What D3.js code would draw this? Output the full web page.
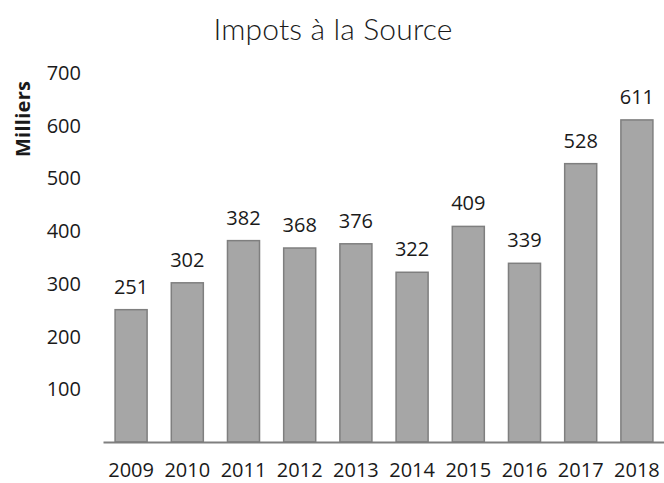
<!DOCTYPE html>
<meta charset="utf-8">
<style>
    body { margin: 0; background: #fff; }
    text { font-family: "Open Sans", sans-serif; fill: #1a1a1a; }
    .title { font-family: Lato, sans-serif; font-weight: 300; font-size: 30px; }
</style>
<script src="https://d3js.org/d3.v7.min.js"></script>
<svg width="664" height="483"></svg>
<script>
    var years = ["2009", "2010", "2011", "2012", "2013", "2014", "2015", "2016", "2017", "2018"];
    var values = [251, 302, 382, 368, 376, 322, 409, 339, 528, 611];
    var yTicks = [100, 200, 300, 400, 500, 600, 700];

    var svg = d3.select("svg");

    var x = d3.scaleBand()
        .domain(years)
        .range([103, 665])
        .paddingInner(0.43)
        .paddingOuter(0.215);

    var y = d3.scaleLinear()
        .domain([0, 700])
        .range([442, 73]);

    svg.append("text")
        .attr("class", "title")
        .attr("x", 333)
        .attr("y", 40)
        .attr("text-anchor", "middle")
        .attr("textLength", 239)
        .text("Impots à la Source");

    svg.append("text")
        .attr("transform", "translate(30,119) rotate(-90)")
        .attr("text-anchor", "middle")
        .attr("textLength", 76)
        .style("font-weight", "bold")
        .style("font-size", "20px")
        .text("Milliers");

    // y tick labels, no axis line
    svg.append("g").selectAll("text")
        .data(yTicks)
        .enter().append("text")
        .attr("x", 81)
        .attr("y", function (d) { return y(d); })
        .attr("dy", "0.35em")
        .attr("text-anchor", "end")
        .style("font-size", "20px")
        .text(function (d) { return d; });

    svg.append("g").selectAll("rect")
        .data(values)
        .enter().append("rect")
        .attr("x", function (d, i) { return x(years[i]); })
        .attr("y", function (d) { return y(d); })
        .attr("width", x.bandwidth())
        .attr("height", function (d) { return y(0) - y(d); })
        .attr("fill", "#a6a6a6")
        .attr("stroke", "#7f7f7f")
        .attr("stroke-width", 1.5);

    svg.append("g").selectAll("text")
        .data(values)
        .enter().append("text")
        .attr("x", function (d, i) { return x(years[i]) + x.bandwidth() / 2; })
        .attr("y", function (d) { return y(d) - 16; })
        .attr("text-anchor", "middle")
        .style("font-size", "20px")
        .text(function (d) { return d; });

    var xAxis = svg.append("g")
        .attr("transform", "translate(0," + y(0) + ")")
        .call(d3.axisBottom(x).tickSize(0).tickPadding(21));
    xAxis.select(".domain").attr("stroke", "#7f7f7f").attr("stroke-width", 2);
    xAxis.selectAll("text")
        .style("font-family", "'Open Sans', sans-serif")
        .style("font-size", "20px")
        .attr("fill", "#1a1a1a");
</script>
